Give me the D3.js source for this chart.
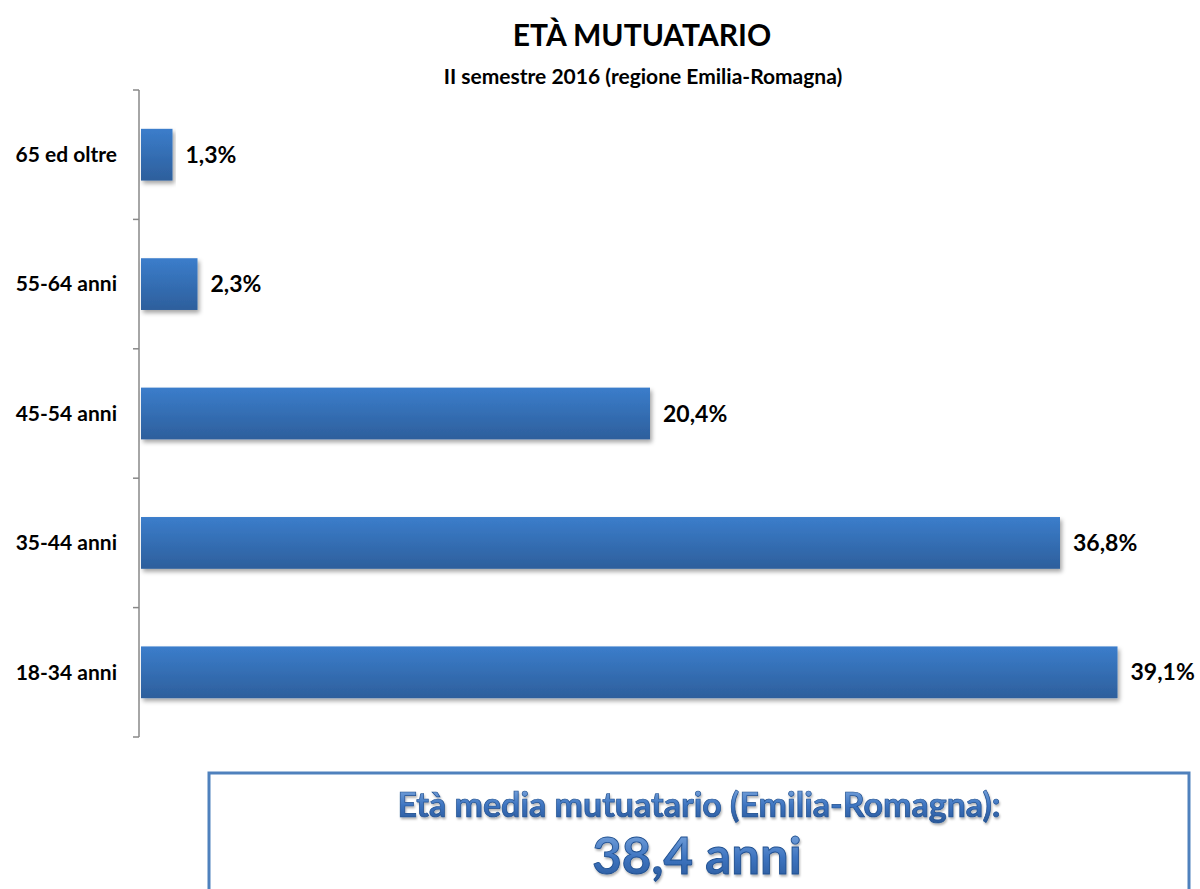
<!DOCTYPE html>
<html>
<head>
<meta charset="utf-8">
<script src="https://cdn.jsdelivr.net/npm/d3@7"></script>
<style>
  body { margin: 0; background: #fff; }
  text { font-family: Lato, "Open Sans", sans-serif; font-weight: bold; }
</style>
</head>
<body>
<div id="chart"></div>
<script>
const categories = ["65 ed oltre", "55-64 anni", "45-54 anni", "35-44 anni", "18-34 anni"];
const values = [1.3, 2.3, 20.4, 36.8, 39.1];
const title = "ETÀ MUTUATARIO";
const subtitle = "II semestre 2016 (regione Emilia-Romagna)";
const boxLine1 = "Età media mutuatario (Emilia-Romagna):";
const boxLine2 = "38,4 anni";

const width = 1200, height = 889;
const fmt = v => d3.format(".1f")(v).replace(".", ",") + "%";

const svg = d3.select("#chart").append("svg")
    .attr("width", width)
    .attr("height", height);

const defs = svg.append("defs");
const grad = defs.append("linearGradient")
    .attr("id", "barGrad").attr("x1", 0).attr("y1", 0).attr("x2", 0).attr("y2", 1);
grad.append("stop").attr("offset", "0%").attr("stop-color", "#3b7dcb");
grad.append("stop").attr("offset", "100%").attr("stop-color", "#2d5f9c");

const shadow = defs.append("filter").attr("id", "shadow")
    .attr("x", "-5%").attr("y", "-20%").attr("width", "115%").attr("height", "160%");
shadow.append("feDropShadow").attr("dx", 2).attr("dy", 3).attr("stdDeviation", 2)
    .attr("flood-color", "#000").attr("flood-opacity", 0.35);

const txtGrad = defs.append("linearGradient")
    .attr("id", "txtGrad").attr("x1", 0).attr("y1", 0).attr("x2", 0).attr("y2", 1);
txtGrad.append("stop").attr("offset", "0%").attr("stop-color", "#8ab2e4");
txtGrad.append("stop").attr("offset", "55%").attr("stop-color", "#3d74c0");
txtGrad.append("stop").attr("offset", "100%").attr("stop-color", "#2a5797");

const txtShadow = defs.append("filter").attr("id", "txtShadow");
txtShadow.append("feDropShadow").attr("dx", 1).attr("dy", 2).attr("stdDeviation", 1.2)
    .attr("flood-color", "#000").attr("flood-opacity", 0.3);

const x = d3.scaleLinear().domain([0, 40]).range([140, 1140]);
const y = d3.scaleBand().domain(categories).range([90, 737]).paddingInner(0.6).paddingOuter(0.3);

// titles
svg.append("text").attr("x", 642).attr("y", 46)
    .attr("text-anchor", "middle").style("font-size", "30px").attr("fill", "#000")
    .text(title);
svg.append("text").attr("x", 643).attr("y", 84)
    .attr("text-anchor", "middle").style("font-size", "21px").attr("fill", "#000")
    .text(subtitle);

// category axis: vertical line with ticks at band edges
const ax = svg.append("g").attr("transform", "translate(139,0)");
const edges = d3.range(categories.length + 1).map(i => 90 + i * (737 - 90) / categories.length);
ax.append("line").attr("x1", 0).attr("x2", 0).attr("y1", 90).attr("y2", 737)
    .attr("stroke", "#888").attr("stroke-width", 1.5);
ax.selectAll(".edge").data(edges).enter().append("line")
    .attr("x1", -6).attr("x2", 0).attr("y1", d => d).attr("y2", d => d)
    .attr("stroke", "#888").attr("stroke-width", 1.5);

svg.selectAll(".cat").data(categories).enter().append("text")
    .attr("x", 117)
    .attr("y", d => y(d) + y.bandwidth() / 2)
    .attr("dy", "0.35em")
    .attr("text-anchor", "end")
    .style("font-size", "21px")
    .attr("fill", "#000")
    .text(d => d);

// bars
svg.selectAll(".bar").data(values).enter().append("rect")
    .attr("x", x(0) + 1)
    .attr("y", (d, i) => y(categories[i]))
    .attr("width", d => x(d) - x(0) - 1)
    .attr("height", y.bandwidth())
    .attr("fill", "url(#barGrad)")
    .attr("filter", "url(#shadow)");

svg.selectAll(".val").data(values).enter().append("text")
    .attr("x", d => x(d) + 13)
    .attr("y", (d, i) => y(categories[i]) + y.bandwidth() / 2)
    .attr("dy", "0.35em")
    .style("font-size", "23px")
    .attr("fill", "#000")
    .text(fmt);

// average box
svg.append("rect").attr("x", 209).attr("y", 773).attr("width", 980).attr("height", 130)
    .attr("fill", "#fff").attr("stroke", "#4f81bd").attr("stroke-width", 3);
svg.append("text").attr("x", 699).attr("y", 817)
    .attr("text-anchor", "middle").style("font-size", "34px")
    .attr("fill", "url(#txtGrad)").attr("stroke", "#1f4f8f").attr("stroke-width", 0.7)
    .attr("filter", "url(#txtShadow)")
    .text(boxLine1);
svg.append("text").attr("x", 697).attr("y", 874)
    .attr("text-anchor", "middle").style("font-size", "51px")
    .attr("fill", "url(#txtGrad)").attr("stroke", "#1f4f8f").attr("stroke-width", 0.9)
    .attr("filter", "url(#txtShadow)")
    .text(boxLine2);
</script>
</body>
</html>
